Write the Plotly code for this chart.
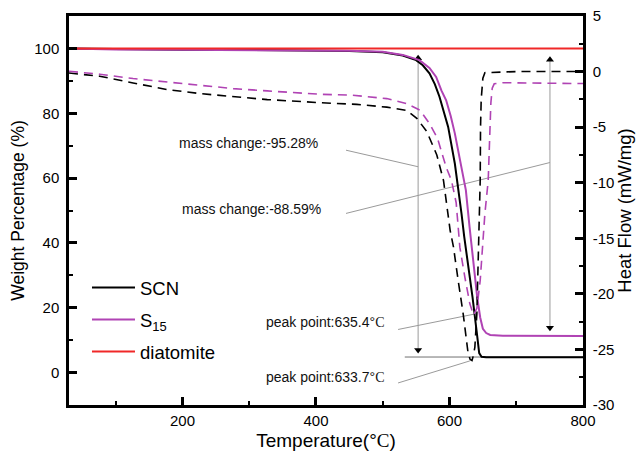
import plotly.graph_objects as go

# ---------------- data ----------------
# TGA curves, left axis: Weight Percentage (%)
temp_scn = [30, 100, 200, 300, 400, 450, 500, 510, 530, 550, 560, 570, 578, 585, 592, 598,
            608, 613, 618, 622, 628, 634.5, 640.5, 644.5, 648, 655, 700, 800]
wt_scn = [100, 99.8, 99.6, 99.5, 99.4, 99.2, 98.8, 98.5, 97.8, 96.4, 94.8, 92.3, 89.0, 85.1, 80.5, 75.8,
          64.5, 57.3, 49.0, 42.0, 33.6, 23.3, 13.0, 6.0, 4.9, 4.75, 4.72, 4.72]

temp_s15 = [30, 100, 200, 300, 400, 450, 500, 510, 530, 555, 570, 580, 588, 595, 602, 608,
            618, 624.5, 630, 635.5, 641.5, 646, 650, 655, 661, 680, 800]
wt_s15 = [100, 99.7, 99.6, 99.5, 99.4, 99.3, 99.0, 98.6, 98.0, 96.4, 94.0, 91.2, 87.0, 84.0, 79.0, 73.8,
          63.5, 56.3, 45.0, 33.6, 23.3, 17.0, 13.5, 12.2, 11.6, 11.4, 11.3]

temp_dia = [30, 200, 400, 600, 800]
wt_dia = [100, 100, 100, 100, 100]

# DSC curves, right axis: Heat Flow (mW/mg)
temp_dsc_scn = [30, 76, 126, 177, 226, 276, 327, 406, 461, 506, 536, 551, 566, 581, 591, 601,
                606, 613, 620.5, 628, 631, 633.7, 636, 638, 641, 643.5, 646, 646.5, 647.5,
                650, 653, 700, 800]
hf_scn = [-0.13, -0.42, -1.02, -1.62, -1.98, -2.28, -2.52, -2.8, -2.95, -3.2, -3.5, -4.2, -5.4, -7.5,
          -9.8, -14.3, -15.8, -18.8, -21.8, -25.4, -25.9, -26.0, -25.5, -24.8, -21.8, -15.8, -9.8,
          -5.0, -2.5, -0.6, -0.1, 0.0, 0.0]

temp_dsc_s15 = [30, 76, 126, 177, 226, 276, 327, 406, 455, 506, 536, 556, 570, 582, 595, 603,
                610, 615.5, 623, 630.5, 636, 641, 646, 653, 658, 660, 662, 664, 667, 680, 800]
hf_s15 = [0.03, -0.24, -0.63, -0.93, -1.23, -1.53, -1.74, -2.04, -2.13, -2.43, -2.88, -3.48, -4.68,
          -6.0, -8.6, -9.8, -11.8, -15.8, -18.5, -20.9, -21.9, -21.3, -18.8, -12.8, -9.8, -6.0,
          -2.8, -1.5, -1.1, -1.0, -1.08]

# axis ticks
x_ticks = [200, 400, 600, 800]
wt_ticks = [0, 20, 40, 60, 80, 100]
hf_ticks = [5, 0, -5, -10, -15, -20, -25, -30]
hf_ticktext = ["5", "0", "-5", "-10", "-15", "-20", "-25", "-30"]

# annotation texts (data coordinates on the left axis)
C = "<span style='font-family:Liberation Serif'>C</span>"
note_texts = ["mass change:-95.28%", "mass change:-88.59%",
              "peak point:635.4°" + C, "peak point:633.7°" + C]
note_x = [299, 304, 413, 413]
note_y = [70.7, 50.6, 15.6, -1.4]
# leader lines: (x0, y0, x1, y1)
leader_x0 = [445, 445, 523, 523]
leader_y0 = [68.6, 49.1, 13.3, -3.2]
leader_x1 = [553, 750.5, 641, 630.5]
leader_y1 = [63.5, 64.8, 18.2, 3.6]
# double arrows (x, top tip, bottom tip)
arrow_x = [553, 750.5]
arrow_top = [97.0, 96.5]
arrow_bot = [7.0, 13.8]
# horizontal baseline
base_x = [533, 800]
base_y = [4.8, 4.8]

FONT = "Arial, 'Liberation Sans', sans-serif"
BLACK = "#000000"
MAGENTA = "#B043B4"
RED = "#F02828"
GRAY = "#9A9A9A"

fig = go.Figure()

# gray helper lines
for i in range(len(leader_x0)):
    fig.add_trace(go.Scatter(x=[leader_x0[i], leader_x1[i]], y=[leader_y0[i], leader_y1[i]],
                             mode="lines", line=dict(color=GRAY, width=1),
                             showlegend=False, hoverinfo="skip"))
for i in range(len(arrow_x)):
    fig.add_trace(go.Scatter(x=[arrow_x[i], arrow_x[i]], y=[arrow_top[i], arrow_bot[i]],
                             mode="lines+markers", line=dict(color=GRAY, width=1),
                             marker=dict(symbol=["triangle-up", "triangle-down"], size=7,
                                         color=BLACK, line=dict(width=0)),
                             showlegend=False, hoverinfo="skip"))
fig.add_trace(go.Scatter(x=base_x, y=base_y, mode="lines", line=dict(color="#707070", width=1),
                         showlegend=False, hoverinfo="skip"))

# DSC dashed curves
fig.add_trace(go.Scatter(x=temp_dsc_scn, y=hf_scn, yaxis="y2", mode="lines",
                         line=dict(color=BLACK, width=1.6, dash="9px,6px"),
                         showlegend=False, hoverinfo="skip"))
fig.add_trace(go.Scatter(x=temp_dsc_s15, y=hf_s15, yaxis="y2", mode="lines",
                         line=dict(color=MAGENTA, width=1.6, dash="9px,6px"),
                         showlegend=False, hoverinfo="skip"))

# TGA solid curves
fig.add_trace(go.Scatter(x=temp_scn, y=wt_scn, mode="lines", name="SCN", legendgroup="a",
                         line=dict(color=BLACK, width=2)))
fig.add_trace(go.Scatter(x=temp_s15, y=wt_s15, mode="lines", name="S<sub>15</sub>", legendgroup="b",
                         line=dict(color=MAGENTA, width=2)))
fig.add_trace(go.Scatter(x=temp_dia, y=wt_dia, mode="lines", name="diatomite", legendgroup="c",
                         line=dict(color=RED, width=2)))

annotations = []
for t, x, y in zip(note_texts, note_x, note_y):
    annotations.append(dict(x=x, y=y, xref="x", yref="y", text=t, showarrow=False,
                            font=dict(family=FONT, size=14, color="#111111"),
                            xanchor="center", yanchor="middle"))

axis_common = dict(showline=True, linewidth=2.5, linecolor=BLACK, ticks="inside",
                   tickwidth=2.5, ticklen=8, tickcolor=BLACK, showgrid=False, zeroline=False,
                   tickfont=dict(family=FONT, size=15, color=BLACK), automargin=False)

fig.update_layout(
    width=638, height=462,
    margin=dict(l=69, r=55, t=16, b=57),
    paper_bgcolor="white", plot_bgcolor="white",
    font=dict(family=FONT, color=BLACK),
    xaxis=dict(range=[30, 800], tickmode="array", tickvals=x_ticks, mirror=True,
               minor=dict(ticks="inside", ticklen=4, tickwidth=2, tickcolor=BLACK,
                          tickmode="linear", tick0=0, dtick=100),
               title=dict(text="Temperature(°" + C + ")", font=dict(family=FONT, size=19),
                          standoff=6),
               **axis_common),
    yaxis=dict(range=[-10, 110], tickmode="array", tickvals=wt_ticks,
               minor=dict(ticks="inside", ticklen=4, tickwidth=2, tickcolor=BLACK,
                          tickmode="linear", tick0=0, dtick=10),
               title=dict(text="Weight Percentage (%)", font=dict(family=FONT, size=17.5),
                          standoff=6),
               ticklabelstandoff=4,
               **axis_common),
    yaxis2=dict(range=[-30, 5], overlaying="y", side="right", tickmode="array",
                tickvals=hf_ticks, ticktext=hf_ticktext,
                minor=dict(ticks="inside", ticklen=4, tickwidth=2, tickcolor=BLACK,
                           tickmode="linear", tick0=0, dtick=2.5),
                title=dict(text="Heat Flow (mW/mg)", font=dict(family=FONT, size=18.5),
                           standoff=2),
                ticklabelstandoff=4,
                **axis_common),
    legend=dict(x=0.035, y=0.35, xanchor="left", yanchor="top", itemwidth=43,
                bgcolor="rgba(0,0,0,0)", borderwidth=0, tracegroupgap=5,
                font=dict(family=FONT, size=18.5, color=BLACK)),
    annotations=annotations,
)

fig.write_html("out.html", config={"displayModeBar": False},
               post_script="document.body.style.margin='0';")
